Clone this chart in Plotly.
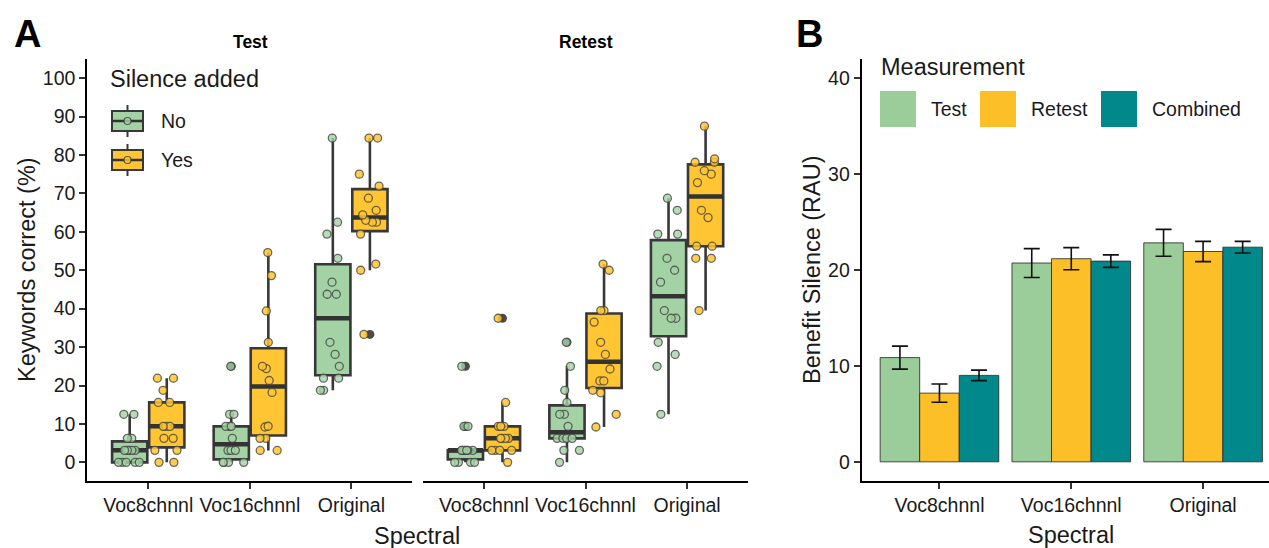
import numpy as np
import plotly.graph_objects as go

W, H = 1269, 548

# ---------------- data ----------------
spectral = ["Voc8chnnl", "Voc16chnnl", "Original"]
silence = ["No", "Yes"]
sessions = ["Test", "Retest"]

# Panel A: keywords correct (%) per participant
test_no_voc8 = [0, 0, 0, 0, 0, 3.125, 3.125, 3.125, 3.125, 3.125, 6.25, 6.25, 12.5, 12.5]
test_no_voc16 = [0, 0, 0, 0, 3.125, 3.125, 3.125, 6.25, 9.375, 9.375, 9.375, 12.5, 12.5, 25]
test_no_orig = [18.75, 18.75, 21.9, 21.9, 25, 28.1, 31.25, 43.75, 43.75, 46.9, 53.1, 59.4, 62.5, 84.4]
test_yes_voc8 = [0, 0, 3.125, 3.125, 6.25, 6.25, 9.375, 9.375, 9.375, 15.6, 15.6, 18.75, 21.9, 21.9]
test_yes_voc16 = [3.1, 3.1, 6.25, 6.25, 9.2, 9.4, 18.2, 21.3, 24.4, 25, 31.25, 39.4, 48.6, 54.6]
test_yes_orig = [33.3, 50, 51.6, 59.4, 62.5, 62.5, 63.0, 64.4, 65.6, 68.75, 71.9, 75, 84.4, 84.4]

retest_no_voc8 = [0, 0, 0, 0, 3.125, 3.125, 3.125, 3.125, 3.125, 3.125, 3.125, 9.375, 9.375, 25]
retest_no_voc16 = [0, 3.125, 3.125, 6.25, 6.25, 6.25, 6.25, 9.375, 12.5, 12.5, 15.6, 18.75, 25, 31.25]
retest_no_orig = [12.5, 25, 28.1, 31.25, 37.5, 37.5, 39.5, 46.9, 50, 53.1, 59.4, 59.4, 65.6, 68.75]
retest_yes_voc8 = [0, 3.125, 3.125, 3.125, 3.125, 6.25, 6.25, 6.25, 6.25, 9.375, 9.375, 9.375, 15.6, 37.5]
retest_yes_voc16 = [9.2, 12.5, 18.1, 18.75, 21.2, 21.2, 24.3, 28.1, 31.25, 36.5, 39.5, 39.5, 50, 51.6]
retest_yes_orig = [39.5, 53.1, 53.1, 56.25, 56.25, 63.7, 65.6, 72.8, 75, 75.9, 78.1, 78.1, 79.0, 87.5]

# Panel B: benefit of silence (RAU), mean and SE
measurements = ["Test", "Retest", "Combined"]
benefit_test = [10.85, 20.7, 22.8]
benefit_test_se = [1.2, 1.5, 1.4]
benefit_retest = [7.15, 21.15, 21.9]
benefit_retest_se = [0.95, 1.15, 1.05]
benefit_combined = [9.0, 20.9, 22.35]
benefit_combined_se = [0.55, 0.65, 0.6]

y_ticks_a = list(range(0, 101, 10))
y_ticks_b = [0, 10, 20, 30, 40]

# ---------------- styles ----------------
FONT = "Liberation Sans, Arial, sans-serif"
TXT = "#1a1a1a"
box_fill = {"No": "#A3D3A4", "Yes": "#FFC533"}
pt_fill = {"No": "rgba(163,211,164,0.8)", "Yes": "rgba(255,197,51,0.85)"}
bar_col = {"Test": "#9BCD9B", "Retest": "#FDBF28", "Combined": "#00888A"}
EDGE = "#383838"

groups = {
    ("Test", "No"): [test_no_voc8, test_no_voc16, test_no_orig],
    ("Test", "Yes"): [test_yes_voc8, test_yes_voc16, test_yes_orig],
    ("Retest", "No"): [retest_no_voc8, retest_no_voc16, retest_no_orig],
    ("Retest", "Yes"): [retest_yes_voc8, retest_yes_voc16, retest_yes_orig],
}


def box_stats(vals):
    v = np.sort(np.asarray(vals, float))
    q1, med, q3 = np.percentile(v, [25, 50, 75])
    iqr = q3 - q1
    lo = v[v >= q1 - 1.5 * iqr].min()
    hi = v[v <= q3 + 1.5 * iqr].max()
    return q1, med, q3, lo, hi


fig = go.Figure()
axes = {"Test": ("x", "y"), "Retest": ("x2", "y2")}

for sess in sessions:
    xa, ya = axes[sess]
    # boxes (with thick median line overlaid)
    for s in silence:
        st = [box_stats(v) for v in groups[(sess, s)]]
        q1 = [a[0] for a in st]
        md = [a[1] for a in st]
        q3 = [a[2] for a in st]
        lo = [a[3] for a in st]
        hi = [a[4] for a in st]
        fig.add_trace(go.Box(
            x=spectral, q1=q1, median=md, q3=q3, lowerfence=lo, upperfence=hi,
            xaxis=xa, yaxis=ya, offsetgroup=s, alignmentgroup=sess,
            fillcolor=box_fill[s], line=dict(color=EDGE, width=2.6),
            whiskerwidth=0, boxpoints=False, showlegend=False, hoverinfo="skip"))
        fig.add_trace(go.Box(
            x=spectral, q1=md, median=md, q3=md, lowerfence=md, upperfence=md,
            xaxis=xa, yaxis=ya, offsetgroup=s, alignmentgroup=sess,
            fillcolor="rgba(0,0,0,0)", line=dict(color="#333333", width=4.5),
            whiskerwidth=0, boxpoints=False, showlegend=False, hoverinfo="skip"))
    # outliers (drawn by the box layer)
    for s in silence:
        xs, ys = [], []
        for cat, vals in zip(spectral, groups[(sess, s)]):
            xs += [cat] * len(vals)
            ys += list(vals)
        fig.add_trace(go.Box(
            x=xs, y=ys, xaxis=xa, yaxis=ya, offsetgroup=s, alignmentgroup=sess,
            boxpoints="outliers", jitter=0, pointpos=0,
            fillcolor="rgba(0,0,0,0)", line=dict(width=0), whiskerwidth=0,
            marker=dict(color="rgba(55,55,55,0.9)", size=9, line=dict(width=0)),
            showlegend=False, hoverinfo="skip"))
    # jittered participant points
    for s in silence:
        xs, ys = [], []
        for cat, vals in zip(spectral, groups[(sess, s)]):
            xs += [cat] * len(vals)
            ys += list(vals)
        fig.add_trace(go.Box(
            x=xs, y=ys, xaxis=xa, yaxis=ya, offsetgroup=s, alignmentgroup=sess,
            boxpoints="all", jitter=0.8, pointpos=0,
            fillcolor="rgba(0,0,0,0)", line=dict(width=0), whiskerwidth=0,
            marker=dict(color=pt_fill[s], size=8,
                        line=dict(color="rgba(60,60,60,0.75)", width=1.3)),
            showlegend=False, hoverinfo="y"))

# Panel B bars
for m, vals, se in [("Test", benefit_test, benefit_test_se),
                    ("Retest", benefit_retest, benefit_retest_se),
                    ("Combined", benefit_combined, benefit_combined_se)]:
    fig.add_trace(go.Bar(
        x=spectral, y=vals, name=m, xaxis="x3", yaxis="y3",
        marker=dict(color=bar_col[m], line=dict(color="rgba(45,45,45,0.85)", width=1)),
        error_y=dict(type="data", array=se, color="#111111", thickness=1.6, width=8),
        showlegend=False))

# ---------------- layout ----------------
def px(x):
    return x / W


def py(y):
    return 1 - y / H


ydom = [py(481), py(58.5)]
axis_common = dict(showgrid=False, zeroline=False, showline=True, linecolor="black",
                   linewidth=2, ticks="outside", ticklen=6, tickwidth=1.5,
                   tickcolor="#333333", tickfont=dict(size=19.5, color=TXT, family=FONT),
                   automargin=False)

fig.update_layout(
    width=W, height=H, margin=dict(l=0, r=0, t=0, b=0),
    template="none", plot_bgcolor="white", paper_bgcolor="white",
    font=dict(family=FONT, color=TXT),
    boxmode="group", boxgap=0.27, boxgroupgap=0.05,
    barmode="group", bargap=0.1, bargroupgap=0,
    showlegend=False,
    xaxis=dict(domain=[px(87.3), px(412.3)], range=[-0.6, 2.6], type="category",
               categoryorder="array", categoryarray=spectral, anchor="y", **axis_common),
    xaxis2=dict(domain=[px(423), px(748)], range=[-0.6, 2.6], type="category",
                categoryorder="array", categoryarray=spectral, anchor="y2", **axis_common),
    xaxis3=dict(domain=[px(861.7), 1], range=[-0.59, 2.5], type="category",
                categoryorder="array", categoryarray=spectral, anchor="y3", **axis_common),
    yaxis=dict(domain=ydom, range=[-4.85, 105.1], tickvals=y_ticks_a, anchor="x",
               **axis_common),
    yaxis2=dict(domain=ydom, range=[-4.85, 105.1], anchor="x2", showgrid=False,
                zeroline=False, showline=False, showticklabels=False, ticks=""),
    yaxis3=dict(domain=ydom, range=[-2, 42], tickvals=y_ticks_b, anchor="x3",
                **axis_common),
)

ann = []


def text(x, y, t, size, bold=False, angle=0, xanchor="center"):
    ann.append(dict(x=px(x), y=py(y), xref="paper", yref="paper", text=f"<b>{t}</b>" if bold else t,
                    showarrow=False, textangle=angle, xanchor=xanchor, yanchor="middle",
                    font=dict(size=size, color="black" if bold else TXT, family=FONT)))


text(27.5, 34, "A", 38, bold=True)
text(809.5, 34, "B", 38, bold=True)
text(250, 42, "Test", 17.5, bold=True)
text(586, 42, "Retest", 17.5, bold=True)
text(27, 270, "Keywords correct (%)", 23.5, angle=-90)
text(812, 270, "Benefit Silence (RAU)", 23.5, angle=-90)
text(417.5, 536, "Spectral", 23.5)
text(1071, 535, "Spectral", 23.5)

# Legend A
text(108, 79, "Silence added", 23.5, xanchor="left")
shapes = []
for s, yc, lab in [("No", 121, "No"), ("Yes", 160, "Yes")]:
    shapes.append(dict(type="line", xref="paper", yref="paper", x0=px(127.5), x1=px(127.5),
                       y0=py(yc - 16), y1=py(yc + 16), line=dict(color=EDGE, width=2)))
    shapes.append(dict(type="rect", xref="paper", yref="paper", x0=px(112), x1=px(143),
                       y0=py(yc - 10), y1=py(yc + 10), fillcolor=box_fill[s],
                       line=dict(color=EDGE, width=2)))
    shapes.append(dict(type="line", xref="paper", yref="paper", x0=px(112), x1=px(143),
                       y0=py(yc), y1=py(yc), line=dict(color="#333333", width=2.5)))
    shapes.append(dict(type="circle", xref="paper", yref="paper", x0=px(124), x1=px(131),
                       y0=py(yc - 3.5), y1=py(yc + 3.5), fillcolor=pt_fill[s],
                       line=dict(color="rgba(60,60,60,0.8)", width=1.2)))
    text(159, yc, lab, 19.5, xanchor="left")

# Legend B
text(879, 67, "Measurement", 23.5, xanchor="left")
for m, x0, tx in [("Test", 880, 929), ("Retest", 980, 1029), ("Combined", 1101, 1150)]:
    shapes.append(dict(type="rect", xref="paper", yref="paper", x0=px(x0), x1=px(x0 + 36),
                       y0=py(127), y1=py(91), fillcolor=bar_col[m], line=dict(width=0)))
    text(tx, 109, m, 19.5, xanchor="left")

fig.update_layout(annotations=ann, shapes=shapes)
fig.write_html(
    "out.html",
    config={"displayModeBar": False},
    post_script="document.body.style.margin='0px';document.body.style.padding='0px';"
                "document.body.style.overflow='hidden';",
)
